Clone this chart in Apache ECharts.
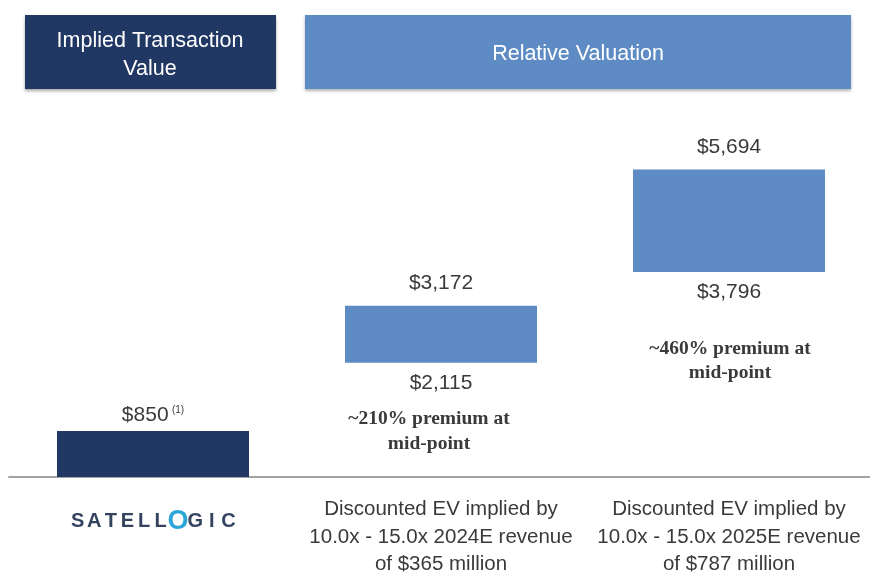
<!DOCTYPE html>
<html><head><meta charset="utf-8">
<script src="https://cdn.jsdelivr.net/npm/echarts@6/dist/echarts.min.js"></script>
<style>html,body{margin:0;padding:0;background:#fff}#c{width:870px;height:573px}</style>
</head><body><div id="c"></div>
<script>
const categories = [
  'SATELLOGIC',
  'Discounted EV implied by\n10.0x - 15.0x 2024E revenue\nof $365 million',
  'Discounted EV implied by\n10.0x - 15.0x 2025E revenue\nof $787 million'
];
const lowValues = [0, 2115, 3796];
const highValues = [850, 3172, 5694];
const premiumNotes = ['', '~210% premium at\nmid-point', '~460% premium at\nmid-point'];
const headerLeft = 'Implied Transaction\nValue';
const headerRight = 'Relative Valuation';
const footnote = '(1)';

const NAVY = '#213864';
const BLUE = '#5e8bc4';
const TXT = '#3a3a3a';
const fmt = v => '$' + v.toLocaleString('en-US');

const chart = echarts.init(document.getElementById('c'), null, {renderer: 'canvas'});

const logoLetters = categories[0].split('');
const logoRich = {};
logoLetters.forEach((ch, i) => {
  logoRich['l' + i] = ch === 'O'
    ? {fontSize: 27, fontWeight: 'bold', color: '#2ba6d9', width: 18, align: 'center', lineHeight: 51, fontFamily: 'Liberation Sans'}
    : {fontSize: 20, fontWeight: 'bold', color: '#34445f', width: 16.6, align: 'center', lineHeight: 51, fontFamily: 'Liberation Sans'};
});
logoRich.c = {fontSize: 20.5, lineHeight: 27.5, color: TXT, fontFamily: 'Liberation Sans', align: 'center'};

const option = {
  animation: false,
  backgroundColor: '#fff',
  grid: {left: 9, width: 864, top: 153, height: 324, outerBoundsMode: 'none', containLabel: false},
  xAxis: {
    type: 'category',
    data: categories,
    axisLine: {show: true, lineStyle: {color: '#a3a3a3', width: 2}},
    axisTick: {show: false},
    axisLabel: {
      margin: 19,
      interval: 0,
      verticalAlign: 'top',
      formatter: (val, idx) => {
        if (idx === 0) return logoLetters.map((ch, i) => '{l' + i + '|' + ch + '}').join('');
        return val.split('\n').map(s => '{c|' + s + '}').join('\n');
      },
      rich: logoRich
    }
  },
  yAxis: {type: 'value', min: 0, max: 6000, show: false, splitLine: {show: false}},
  series: [
    {
      type: 'bar', stack: 'r', barWidth: 192,
      itemStyle: {color: 'transparent'},
      data: lowValues.map(v => ({
        value: v,
        label: {
          show: v > 0, position: 'insideTop', distance: 10,
          formatter: () => fmt(v),
          fontSize: 21, color: TXT, fontFamily: 'Liberation Sans'
        }
      }))
    },
    {
      type: 'bar', stack: 'r', barWidth: 192,
      data: highValues.map((h, i) => ({
        value: h - lowValues[i],
        itemStyle: {color: i === 0 ? NAVY : BLUE},
        label: {
          show: true, position: 'top', distance: i === 0 ? 5 : 12,
          formatter: i === 0 ? '{v|' + fmt(h) + '} {s|' + footnote + '}' : '{v|' + fmt(h) + '}',
          rich: {
            v: {fontSize: 21, color: TXT, fontFamily: 'Liberation Sans'},
            s: {fontSize: 10, color: TXT, fontFamily: 'Liberation Sans', padding: [0, 0, 10, 0]}
          }
        }
      }))
    }
  ],
  graphic: [
    {type: 'rect', shape: {x: 25, y: 15, width: 251, height: 74}, style: {fill: NAVY, shadowBlur: 3, shadowOffsetY: 2, shadowColor: 'rgba(0,0,0,0.35)'}},
    {type: 'rect', shape: {x: 305, y: 15, width: 546, height: 74}, style: {fill: BLUE, shadowBlur: 3, shadowOffsetY: 2, shadowColor: 'rgba(0,0,0,0.3)'}},
    {type: 'text', x: 150, y: 55, style: {text: headerLeft, fill: '#fff', fontSize: 21.5, lineHeight: 28, fontFamily: 'Liberation Sans', align: 'center', verticalAlign: 'middle'}},
    {type: 'text', x: 578, y: 54, style: {text: headerRight, fill: '#fff', fontSize: 21.5, fontFamily: 'Liberation Sans', align: 'center', verticalAlign: 'middle'}},
    {type: 'text', x: 429, y: 406, style: {text: premiumNotes[1], fill: TXT, fontSize: 19.5, lineHeight: 25, fontWeight: 'bold', fontFamily: 'Liberation Serif', align: 'center', verticalAlign: 'top'}},
    {type: 'text', x: 730, y: 337, style: {text: premiumNotes[2], fill: TXT, fontSize: 19.5, lineHeight: 24, fontWeight: 'bold', fontFamily: 'Liberation Serif', align: 'center', verticalAlign: 'top'}}
  ]
};
chart.setOption(option);
</script>
</body></html>
